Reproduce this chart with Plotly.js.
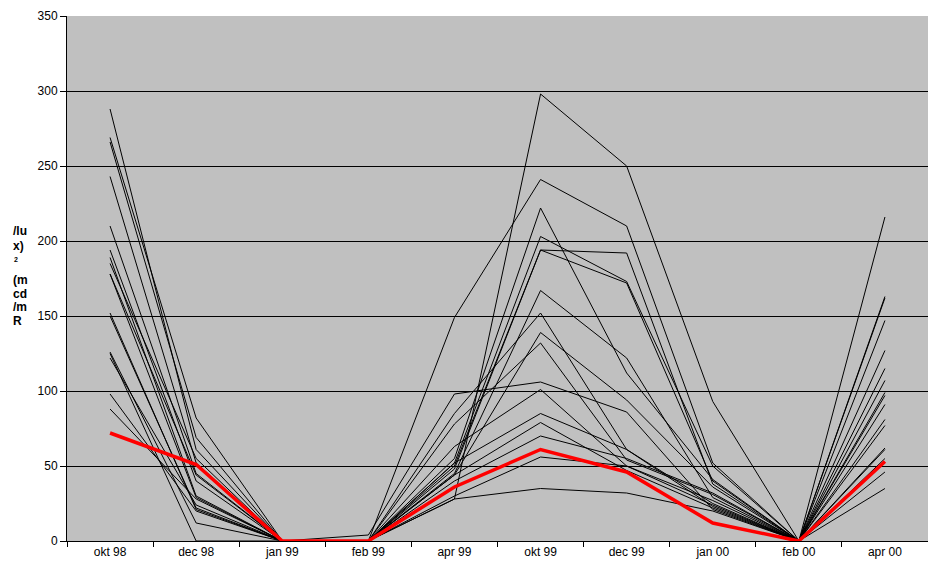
<!DOCTYPE html>
<html>
<head>
<meta charset="utf-8">
<script src="https://cdn.plot.ly/plotly-3.0.1.min.js"></script>
<style>html,body{margin:0;padding:0;background:#fff;}#chart{width:928px;height:569px;}</style>
</head>
<body>
<div id="chart"></div>
<script>
const categories = ["okt 98","dec 98","jan 99","feb 99","apr 99","okt 99","dec 99","jan 00","feb 00","apr 00"];

const s1  = [288, 61, 0, 0, 28, 298, 250, 93, 0, 216];
const s2  = [269, 82, 0, 0, 149, 241, 210, 52, 0, 163];
const s3  = [266, 69, 0, 0, 55, 222, 112, 41, 0, 162];
const s4  = [243, 52, 0, 0, 52, 203, 173, 50, 0, 147];
const s5  = [210, 45, 0, 0, 50, 194, 172, 40, 0, 127];
const s6  = [194, 40, 0, 0, 48, 194, 192, 38, 0, 115];
const s7  = [189, 30, 0, 0, 45, 167, 122, 29, 0, 107];
const s8  = [185, 55, 0, 0, 85, 152, 61, 23, 0, 99];
const s9  = [178, 44, 0, 0, 44, 139, 94, 36, 0, 97];
const s10 = [178, 29, 0, 0, 78, 132, 54, 31, 0, 91];
const s11 = [152, 21, 0, 4, 98, 106, 86, 21, 0, 81];
const s12 = [150, 22, 0, 0, 63, 101, 50, 27, 0, 77];
const s13 = [126, 12, 0, 0, 52, 85, 61, 25, 0, 62];
const s14 = [125, 0, 0, 0, 44, 79, 47, 22, 0, 61];
const s15 = [122, 24, 0, 0, 40, 70, 55, 32, 0, 55];
const s16 = [98, 20, 0, 0, 30, 56, 50, 24, 0, 46];
const s17 = [88, 28, 0, 0, 28, 35, 32, 20, 0, 35];
const average = [72, 51, 0, 0, 36, 61, 46, 12, 0, 53];

const blackSeries = [s1,s2,s3,s4,s5,s6,s7,s8,s9,s10,s11,s12,s13,s14,s15,s16,s17];
const yTicks = [0,50,100,150,200,250,300,350];

const traces = blackSeries.map((s,i) => ({
  x: categories, y: s, type: "scatter", mode: "lines",
  line: {color: "#000000", width: 1}, name: "s" + (i+1), hoverinfo: "y"
}));
traces.push({
  x: categories, y: average, type: "scatter", mode: "lines",
  line: {color: "#ff0000", width: 3.5}, name: "average", hoverinfo: "y"
});

const labFont = {family: "Liberation Sans, Arial, sans-serif", size: 12, color: "#000"};
const titleParts = [
  {t: "/lu", y: 231}, {t: "x)", y: 246}, {t: "(m", y: 280}, {t: "cd", y: 294},
  {t: "/m", y: 307}, {t: "R", y: 321}
];
const annotations = titleParts.map(p => ({
  text: "<b>" + p.t + "</b>", xref: "paper", yref: "paper",
  x: (11 - 67) / 861, y: (541 - p.y) / 525, xanchor: "left", yanchor: "middle",
  showarrow: false, font: {family: "Liberation Sans, Arial, sans-serif", size: 12, color: "#000"}
}));
annotations.push({
  text: "<b>2</b>", xref: "paper", yref: "paper",
  x: (12 - 67) / 861, y: (541 - 259) / 525, xanchor: "left", yanchor: "middle",
  showarrow: false, font: {family: "Liberation Sans, Arial, sans-serif", size: 7, color: "#000"}
});

const layout = {
  width: 928, height: 569,
  margin: {l: 67, r: 0, t: 16, b: 28},
  paper_bgcolor: "#ffffff", plot_bgcolor: "#c0c0c0",
  showlegend: false,
  font: labFont,
  xaxis: {
    type: "category", categoryarray: categories, range: [-0.5, 9.5],
    showline: true, linecolor: "#000", linewidth: 1,
    ticks: "outside", ticklen: 5, tickcolor: "#000", tickson: "boundaries",
    showgrid: false, zeroline: false, tickfont: labFont, fixedrange: true
  },
  yaxis: {
    range: [0, 350], tickvals: yTicks, ticktext: yTicks.map(String),
    showline: true, linecolor: "#000", linewidth: 1,
    ticks: "outside", ticklen: 6, tickcolor: "#000",
    showgrid: true, gridcolor: "#000", gridwidth: 1, zeroline: false,
    tickfont: labFont, fixedrange: true
  },
  annotations: annotations
};

Plotly.newPlot("chart", traces, layout, {displayModeBar: false, staticPlot: true});
</script>
</body>
</html>
